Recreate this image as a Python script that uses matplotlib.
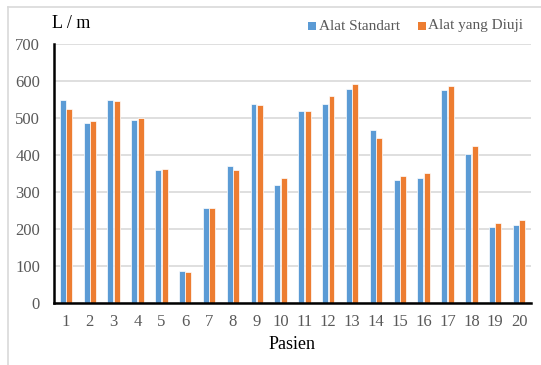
import matplotlib
matplotlib.use("Agg")
import matplotlib.pyplot as plt
import numpy as np
from matplotlib.lines import Line2D
from matplotlib.patches import Rectangle

patients = [str(i) for i in range(1, 21)]
alat_standart = [549, 487, 549, 495, 359, 86, 257, 371, 537, 319,
                 520, 538, 578, 468, 332, 339, 576, 404, 205, 212]
alat_diuji = [525, 492, 546, 501, 362, 84, 256, 359, 534, 338,
              520, 559, 592, 447, 344, 351, 587, 425, 217, 224]
y_ticks = [0, 100, 200, 300, 400, 500, 600, 700]
series_names = ['Alat Standart', 'Alat yang Diuji']

plt.rcParams['font.family'] = ['Liberation Serif', 'DejaVu Serif']

W, H = 541, 365
fig = plt.figure(figsize=(W/100, H/100), dpi=100)
ax = fig.add_axes([54/W, 1-303/H, (531-54)/W, (303-44)/H])

x = np.arange(len(patients))
w = 0.25
blue = '#5B9BD5'
orange = '#ED7D31'
ax.bar(x - 0.135, alat_standart, width=w, color=blue, edgecolor='white', linewidth=0.5, zorder=3)
ax.bar(x + 0.135, alat_diuji, width=w, color=orange, edgecolor='white', linewidth=0.5, zorder=3)

ax.set_xlim(-0.5, len(patients) - 0.5)
ax.set_ylim(0, 700)
ax.set_yticks(y_ticks)
ax.set_xticks(x)
ax.set_xticklabels(patients)
ax.yaxis.grid(True, color='#d9d9d9', linewidth=1.2, zorder=0)
ax.set_axisbelow(True)
for s in ['top', 'right']:
    ax.spines[s].set_visible(False)
for s in ['left', 'bottom']:
    ax.spines[s].set_linewidth(1.8)
    ax.spines[s].set_color('black')
    ax.spines[s].set_zorder(5)
ax.tick_params(axis='both', length=0, labelsize=12, colors='#595959', pad=8)
ax.tick_params(axis='y', pad=10)

ax.set_xlabel('Pasien', fontsize=13, color='black', labelpad=4)
fig.text(52/W, 1-24/H, 'L / m', fontsize=13, color='black', va='center', ha='left')

# legend drawn manually
leg_items = [(308, 319, blue, series_names[0]), (418, 428, orange, series_names[1])]
for mx, tx, col, name in leg_items:
    fig.add_artist(Rectangle((mx/W, 1-30/H), 8/W, 8/H, transform=fig.transFigure,
                             facecolor=col, edgecolor='none'))
    fig.text(tx/W, 1-26/H, name, fontsize=11, color='#595959', va='center', ha='left')

# outer border lines (top and left)
fig.add_artist(Line2D([8/W, 1], [1-7/H, 1-7/H], transform=fig.transFigure, color='#d9d9d9', linewidth=1.2))
fig.add_artist(Line2D([8/W, 8/W], [0, 1-7/H], transform=fig.transFigure, color='#d9d9d9', linewidth=1.2))

fig.savefig('out.png', dpi=100)
